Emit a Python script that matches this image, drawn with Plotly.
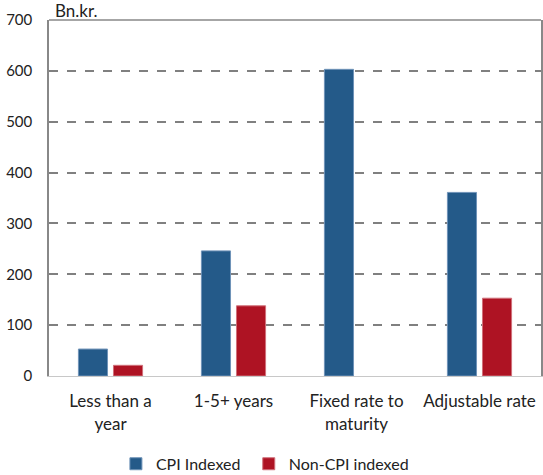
import plotly.graph_objects as go

categories = ["Less than a<br>year", "1-5+ years", "Fixed rate to<br>maturity", "Adjustable rate"]
cpi_indexed = [53, 246, 603, 361]
non_cpi_indexed = [21, 138, None, 153]
y_ticks = [0, 100, 200, 300, 400, 500, 600, 700]

FONT = "Lato, 'Open Sans', sans-serif"
BLUE = "#245a89"
RED = "#ae1323"

fig = go.Figure()
fig.add_trace(go.Bar(name="CPI Indexed", x=categories, y=cpi_indexed, legend="legend",
                     marker=dict(color=BLUE, line=dict(color="#6f93b8", width=1))))
fig.add_trace(go.Bar(name="Non-CPI indexed", x=categories, y=non_cpi_indexed, legend="legend2",
                     marker=dict(color=RED, line=dict(color="#d0707a", width=1))))

leg_common = dict(orientation="h", y=-0.199, yanchor="top", xanchor="left",
                  font=dict(size=16, family=FONT), itemwidth=30, bgcolor="rgba(0,0,0,0)")

fig.update_layout(
    width=543, height=475,
    margin=dict(l=49, r=2, t=20, b=99, autoexpand=False),
    paper_bgcolor="white", plot_bgcolor="white",
    font=dict(family=FONT, size=16, color="#222222"),
    barmode="group", bargap=0.43, bargroupgap=0.17,
    showlegend=True,
    legend=dict(x=0.136, **leg_common),
    legend2=dict(x=0.406, **leg_common),
    xaxis=dict(showgrid=False, showline=True, linecolor="#c8c8c8", linewidth=1,
               ticks="", tickfont=dict(size=17), mirror=False, ticklabelstandoff=10),
    yaxis=dict(range=[0, 700], tickvals=y_ticks, showgrid=True, gridcolor="#808080",
               griddash="dash", gridwidth=1.5, showline=True, linecolor="#888888",
               linewidth=1.5, mirror=True, ticks="", tickfont=dict(size=15),
               zeroline=False, ticklabelstandoff=12),
    annotations=[dict(text="Bn.kr.", xref="paper", yref="paper", x=0.0, y=1.0,
                      xanchor="left", yanchor="bottom", showarrow=False, xshift=4,
                      yshift=-3, font=dict(size=17, family=FONT))],
)
fig.add_shape(type="line", xref="paper", yref="paper", x0=0, x1=1, y0=1, y1=1,
              line=dict(color="#888888", width=1.5))

fig.write_html("out.html")
